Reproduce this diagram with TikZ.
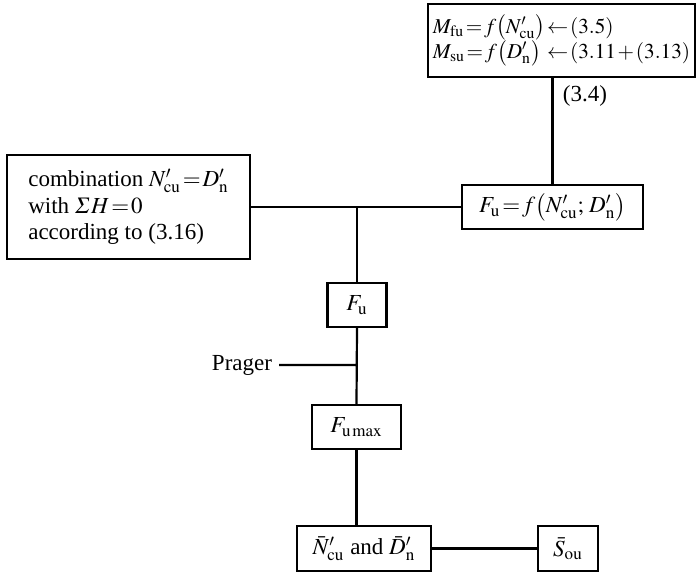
\documentclass[tikz,border=0pt]{standalone}
\usepackage{amsmath,mathptmx}
\usepackage{fontspec}
\setmainfont{Liberation Serif}
\usetikzlibrary{calc}
\tikzset{
	box/.style={draw,line width=1.1pt,inner xsep=3pt,inner ysep=0pt,minimum height=22pt},
	link/.style={line width=1.1pt}
}
\thickmuskip=1.5mu
\medmuskip=1.5mu
\begin{document}
\begin{tikzpicture}[x=.5pt,y=-.5pt,font=\fontsize{11.5}{13.3}\selectfont]
	\useasboundingbox (0,0) rectangle (697,574);
	\path
	(561.5,40.5) node[box,minimum width=133.5pt,minimum height=36.5pt,inner xsep=2pt,
		font=\fontsize{10.6}{12.4}\selectfont] (moments)
		{\begin{tabular}{@{}l@{\hspace{1pt}}l@{}}
			$M_{\mathrm{fu}}=f\bigl(N'_{\mathrm{cu}}\bigr)$ & $\leftarrow(3.5)$\\
			$M_{\mathrm{su}}=f\bigl(D'_{\mathrm{n}}\bigr)$ & $\leftarrow(3.11+(3.13)$
		\end{tabular}}
	(128.5,207) node[box,minimum width=121.5pt,minimum height=52pt,align=left] (comb)
		{combination $N'_{\mathrm{cu}}=D'_{\mathrm{n}}$\\ with $\varSigma H=0$\\ according to (3.16)}
	(552.5,207) node[box,minimum width=90.5pt] (fu)
		{$F_{\mathrm{u}}=f\bigl(N'_{\mathrm{cu}};\,D'_{\mathrm{n}}\bigr)$}
	(357,305) node[box,minimum width=29.5pt] (Fu) {$F_{\mathrm{u}}$}
	(356.5,427) node[box,minimum width=44.5pt] (Fmax) {$F_{\mathrm{u\,max}}$}
	(364,548.5) node[box,minimum width=67pt,minimum height=22.5pt] (ND)
		{$\bar{N}'_{\mathrm{cu}}$ and $\bar{D}'_{\mathrm{n}}$}
	(568,548.5) node[box,minimum width=30pt,minimum height=22.5pt] (S) {$\bar{S}_{\mathrm{ou}}$}
	(242,365) node (prager) {Prager}
	(585,96) node (eq) {(3.4)}
	(357,207) coordinate (J)
	(357,365) coordinate (P)
	;
	\draw[link] (fu.north) -- (fu.north |- moments.south);
	\draw[link] (comb.east) -- (fu.west) (J) -- (Fu.north);
	\draw[link] (Fu.south) -- (Fmax.north) (prager.east) -- (P);
	\draw[link] (Fmax.south) -- (Fmax.south |- ND.north) (ND.east) -- (S.west);
\end{tikzpicture}
\end{document}
